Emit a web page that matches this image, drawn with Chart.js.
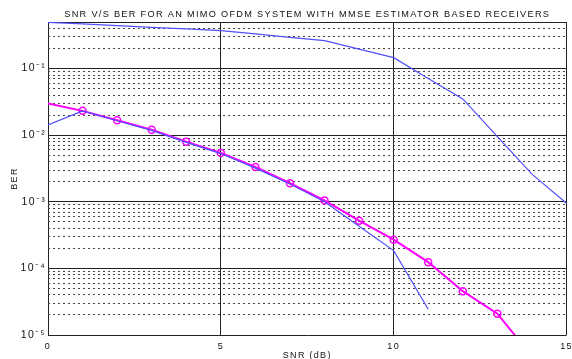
<!DOCTYPE html>
<html>
<head>
<meta charset="utf-8">
<script src="https://cdn.jsdelivr.net/npm/chart.js@4/dist/chart.umd.min.js"></script>
<style>
  body { margin: 0; background: #fff; }
  canvas { display: block; }
</style>
</head>
<body>
<canvas id="c" width="572" height="359"></canvas>
<script>
// data
const snr = [0, 1, 2, 3, 4, 5, 6, 7, 8, 9, 10, 11, 12, 13, 14, 15];
const berUpper = [0.494, 0.468, 0.442, 0.417, 0.394, 0.372, 0.332, 0.295, 0.263, 0.196, 0.146, 0.071, 0.035, 0.0095, 0.0026, 0.00095];
const berLower = [0.0143, 0.0232, 0.0165, 0.0118, 0.0078, 0.0053, 0.0032, 0.00185, 0.00100, 0.00043, 0.000185, 0.0000244];
const berMmse = [0.030, 0.0232, 0.0168, 0.0121, 0.0080, 0.0054, 0.00334, 0.00190, 0.00105, 0.00052, 0.00027, 0.000124, 0.0000455, 0.0000209, 0.0000048];
const xTicks = [0, 5, 10, 15];
const decadeTicks = [1e-5, 1e-4, 1e-3, 1e-2, 1e-1];
const decadeLabels = ['10\u207B\u2075', '10\u207B\u2074', '10\u207B\u00B3', '10\u207B\u00B2', '10\u207B\u00B9'];
const yMin = 1e-5;
const yMax = 0.5;

const FONT = '"Liberation Sans", Arial, Helvetica, sans-serif';

const toPoints = function(ys){
    return ys.map((v, i) => ({x: snr[i], y: v}));
};

const minorTicks = [];
for (const d of decadeTicks) {
    for (let k = 2; k <= 9; k++) {
        const v = +(d * k).toPrecision(3);
        if (v < yMax) minorTicks.push(v);
    }
}

// the original text is drawn wide, so space the letters out a little
const wideText = {
    id: 'wideText',
    beforeUpdate(chart){ chart.ctx.letterSpacing = '1.3px'; },
    beforeLayout(chart){ chart.ctx.letterSpacing = '1.3px'; },
    beforeDraw(chart){ chart.ctx.letterSpacing = '1.3px'; }
};

const ctx = document.getElementById('c');

new Chart(ctx, {
    type: 'line',
    data: {
        datasets: [{
            data: toPoints(berUpper),
            borderColor: '#5050ff',
            borderWidth: 1.2,
            pointRadius: 0,
            tension: 0
        }, {
            data: toPoints(berLower),
            borderColor: '#5050ff',
            borderWidth: 1.2,
            pointRadius: 0,
            tension: 0
        }, {
            data: toPoints(berMmse),
            borderColor: '#ff00ff',
            borderWidth: 2,
            pointRadius: berMmse.map((v, i) => i === 0 ? 0 : 3.5),
            pointBorderColor: '#ff00ff',
            pointBorderWidth: 1.5,
            pointBackgroundColor: 'rgba(0,0,0,0)',
            tension: 0
        }]
    },
    plugins: [wideText],
    options: {
        responsive: false,
        animation: false,
        layout: { padding: { left: 0, right: 4, top: 0, bottom: 0 } },
        plugins: {
            legend: { display: false },
            tooltip: { enabled: false },
            title: {
                display: true,
                fullSize: false,
                text: 'SNR V/S BER FOR AN MIMO OFDM SYSTEM WITH MMSE ESTIMATOR BASED RECEIVERS',
                color: '#111',
                font: { family: FONT, size: 9.2, weight: 'normal' },
                padding: { top: 9, bottom: 2 }
            }
        },
        scales: {
            x: {
                type: 'linear',
                min: 0,
                max: 15,
                afterBuildTicks: s => { s.ticks = xTicks.map(v => ({value: v})); },
                afterFit: s => { s.height = 24; s.paddingLeft = 0; s.paddingRight = 0; },
                ticks: {
                    color: '#111',
                    font: { family: FONT, size: 9 },
                    padding: 6,
                    maxRotation: 0,
                    autoSkip: false
                },
                grid: { color: '#222', lineWidth: 1, drawTicks: false },
                border: { display: false },
                title: {
                    display: true,
                    text: 'SNR (dB)',
                    color: '#111',
                    font: { family: FONT, size: 9 },
                    padding: { top: 0, bottom: -1.5 }
                }
            },
            y: {
                type: 'logarithmic',
                min: yMin,
                max: yMax,
                afterBuildTicks: s => { s.ticks = decadeTicks.concat([yMax]).map(v => ({value: v})); },
                afterFit: s => { s.width = 48; s.paddingTop = 0; s.paddingBottom = 0; },
                ticks: {
                    color: '#111',
                    font: { family: FONT, size: 10.5 },
                    padding: 2,
                    autoSkip: false,
                    callback: function(value){
                        const i = decadeTicks.findIndex(d => Math.abs(d - value) / d < 1e-6);
                        return i >= 0 ? decadeLabels[i] : '';
                    }
                },
                grid: { color: '#222', lineWidth: 1, drawTicks: false },
                border: { display: false },
                title: {
                    display: true,
                    text: 'BER',
                    color: '#111',
                    font: { family: FONT, size: 9 },
                    padding: { top: 9, bottom: 0 }
                }
            },
            yMinor: {
                type: 'logarithmic',
                position: 'left',
                min: yMin,
                max: yMax,
                afterBuildTicks: s => { s.ticks = minorTicks.map(v => ({value: v})); },
                afterFit: s => { s.width = 0; },
                ticks: { display: false },
                grid: { color: '#444', lineWidth: 1, drawTicks: false },
                border: { display: false, dash: [2, 3] }
            }
        }
    }
});
</script>
</body>
</html>
